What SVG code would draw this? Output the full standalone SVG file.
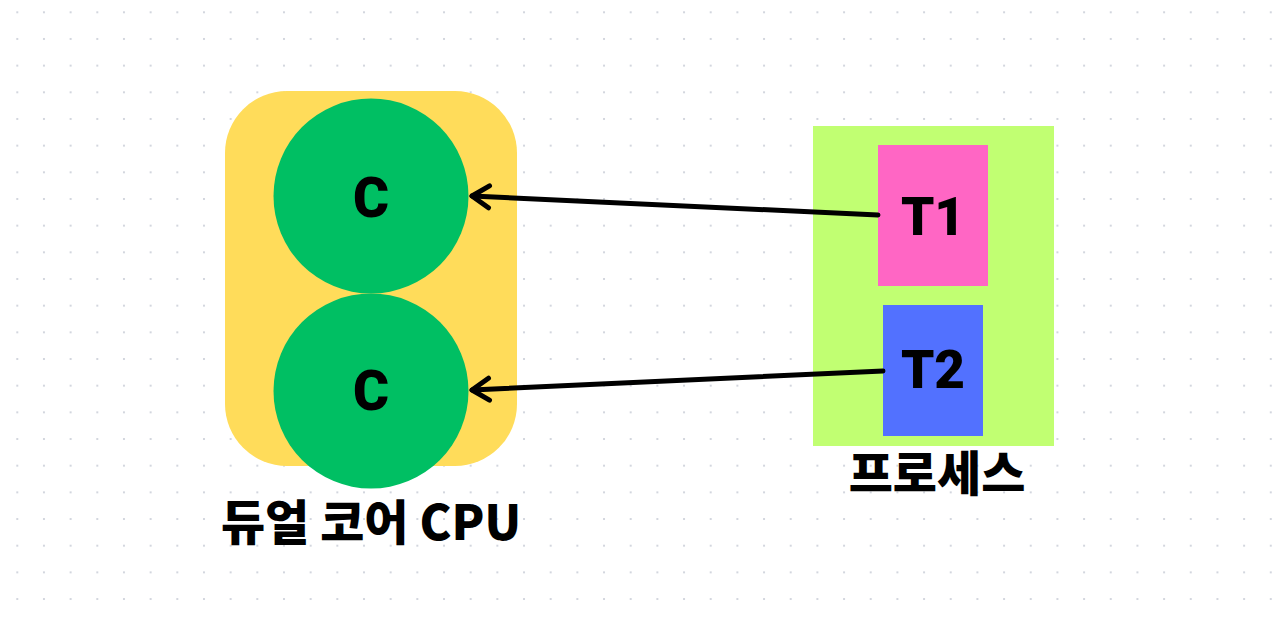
<svg xmlns="http://www.w3.org/2000/svg" width="1280" height="624" viewBox="0 0 1280 624">
<defs>
<pattern id="dots" x="16.3" y="11.3" width="26.67" height="26.67" patternUnits="userSpaceOnUse">
<rect x="0" y="0" width="2" height="2" fill="#d3d6de"/>
</pattern>
<marker id="arr" viewBox="0 0 30 30" refX="24" refY="15" markerWidth="30" markerHeight="30" markerUnits="userSpaceOnUse" orient="auto">
<path d="M7,4 L24,15 L7,26" fill="none" stroke="#000" stroke-width="5" stroke-linecap="round" stroke-linejoin="round"/>
</marker>
<style>
.lbl{font-family:"Noto Sans CJK KR","Noto Sans",sans-serif;font-weight:900;fill:#000;text-anchor:middle;dominant-baseline:central}
.lat{font-family:Roboto,"Noto Sans",sans-serif;font-weight:900;fill:#000;text-anchor:middle}
.conn{stroke:#000;stroke-width:5;fill:none;stroke-linecap:round}
</style>
</defs>
<rect width="1280" height="624" fill="#fff"/>
<rect width="1280" height="624" fill="url(#dots)"/>
<g id="cpu">
<rect x="225" y="91" width="292" height="375" rx="62" fill="#ffdc5a"/>
<text class="lbl" x="371" y="519" font-size="48">듀얼 코어 CPU</text>
</g>
<g id="core1">
<circle cx="371" cy="196" r="97.5" fill="#00bf63"/>
<text class="lat" x="371" y="216.5" font-size="55">C</text>
</g>
<g id="core2">
<circle cx="371" cy="391" r="97.5" fill="#00bf63"/>
<text class="lat" x="371" y="410" font-size="55">C</text>
</g>
<g id="process">
<rect x="813" y="126" width="241" height="320" fill="#c1ff72"/>
<text class="lbl" x="937" y="470" font-size="48">프로세스</text>
</g>
<g id="t1">
<rect x="878" y="145" width="110" height="141" fill="#ff66c4"/>
<text class="lat" x="933" y="235" font-size="53">T1</text>
</g>
<g id="t2">
<rect x="883" y="305" width="100" height="131" fill="#5271ff"/>
<text class="lat" x="933" y="388" font-size="53">T2</text>
</g>
<g id="connectors">
<line class="conn" x1="878" y1="215" x2="472" y2="196" marker-end="url(#arr)"/>
<line class="conn" x1="883" y1="371" x2="472" y2="390" marker-end="url(#arr)"/>
</g>
</svg>
